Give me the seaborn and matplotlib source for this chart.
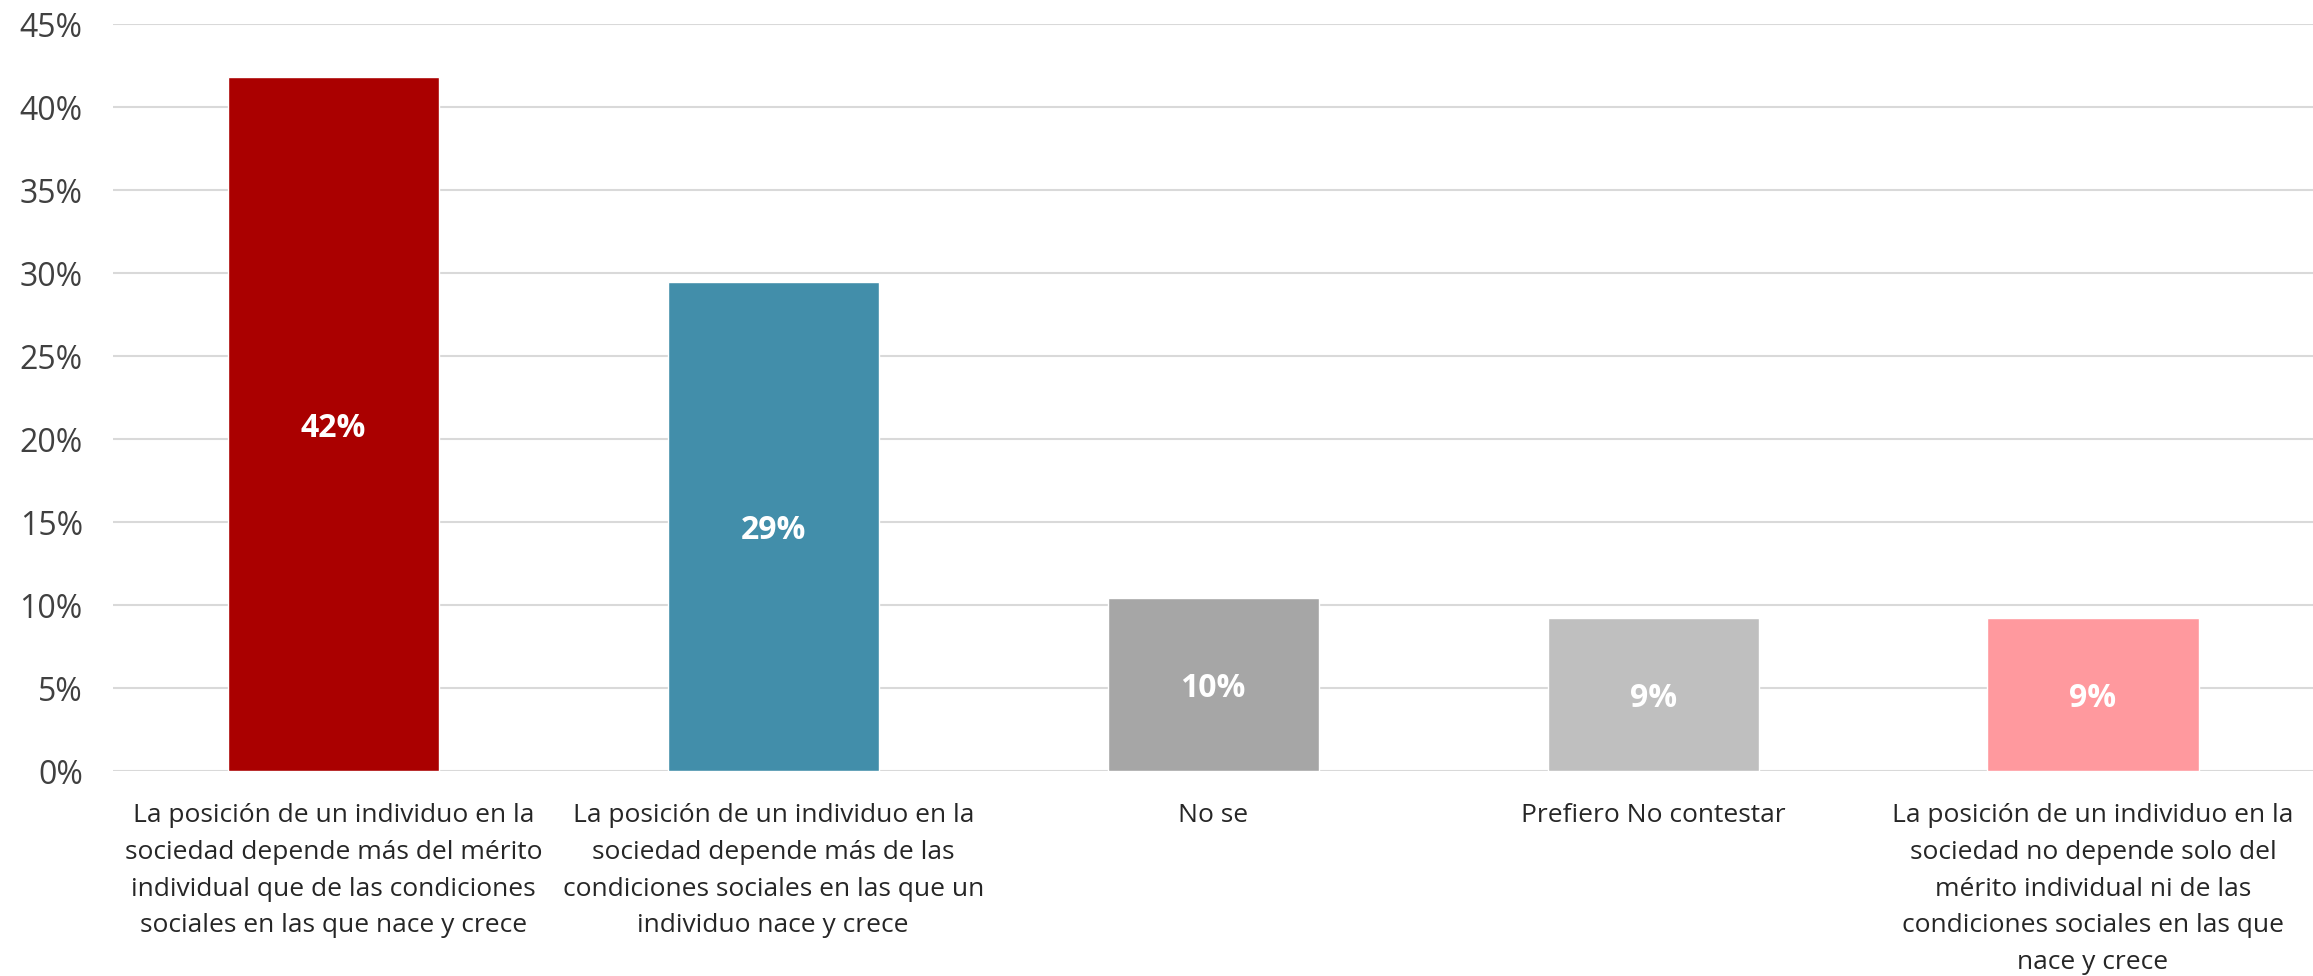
import pandas as pd
import matplotlib
matplotlib.use('Agg')
import matplotlib.pyplot as plt
import seaborn as sns
from matplotlib.ticker import PercentFormatter

# Datos
categorias = [
    'La posición de un individuo en la\nsociedad depende más del mérito\nindividual que de las condiciones\nsociales en las que nace y crece',
    'La posición de un individuo en la\nsociedad depende más de las\ncondiciones sociales en las que un\nindividuo nace y crece',
    'No se',
    'Prefiero No contestar',
    'La posición de un individuo en la\nsociedad no depende solo del\nmérito individual ni de las\ncondiciones sociales en las que\nnace y crece',
]
valores = [41.8, 29.5, 10.4, 9.2, 9.2]
etiquetas = ['42%', '29%', '10%', '9%', '9%']
colores = ['#AA0000', '#428EAA', '#A6A6A6', '#BFBFBF', '#FF999E']

df = pd.DataFrame({'categoria': categorias, 'valor': valores})

sns.set_style('white')
plt.rcParams['font.family'] = ['Open Sans', 'DejaVu Sans']

fig = plt.figure(figsize=(23.13, 9.76), dpi=100)
ax = fig.add_axes([0.049, 0.21, 0.951, 0.765])

sns.barplot(data=df, x='categoria', y='valor', hue='categoria', palette=colores,
            saturation=1, dodge=False, width=0.48, legend=False, ax=ax, zorder=3)

# Etiquetas dentro de las barras
for p, txt in zip(ax.patches, etiquetas):
    ax.text(p.get_x() + p.get_width() / 2, p.get_height() / 2, txt,
            ha='center', va='center_baseline', color='white', fontsize=23, fontweight='bold')

ax.set_ylim(0, 45)
ax.set_xlim(-0.5, 4.5)
ax.set_yticks(range(0, 50, 5))
ax.yaxis.set_major_formatter(PercentFormatter(decimals=0))
ax.grid(axis='y', color='#D9D9D9', linewidth=1.5, zorder=0)
ax.set_xlabel('')
ax.set_ylabel('')
for s in ax.spines.values():
    s.set_visible(False)
ax.tick_params(axis='y', length=0, pad=22, labelsize=23, labelcolor='#404040')
ax.tick_params(axis='x', length=0, pad=23, labelsize=19, labelcolor='#262626')
for lbl in ax.get_xticklabels():
    lbl.set_linespacing(1.62)

plt.savefig('out.png', dpi=100)
